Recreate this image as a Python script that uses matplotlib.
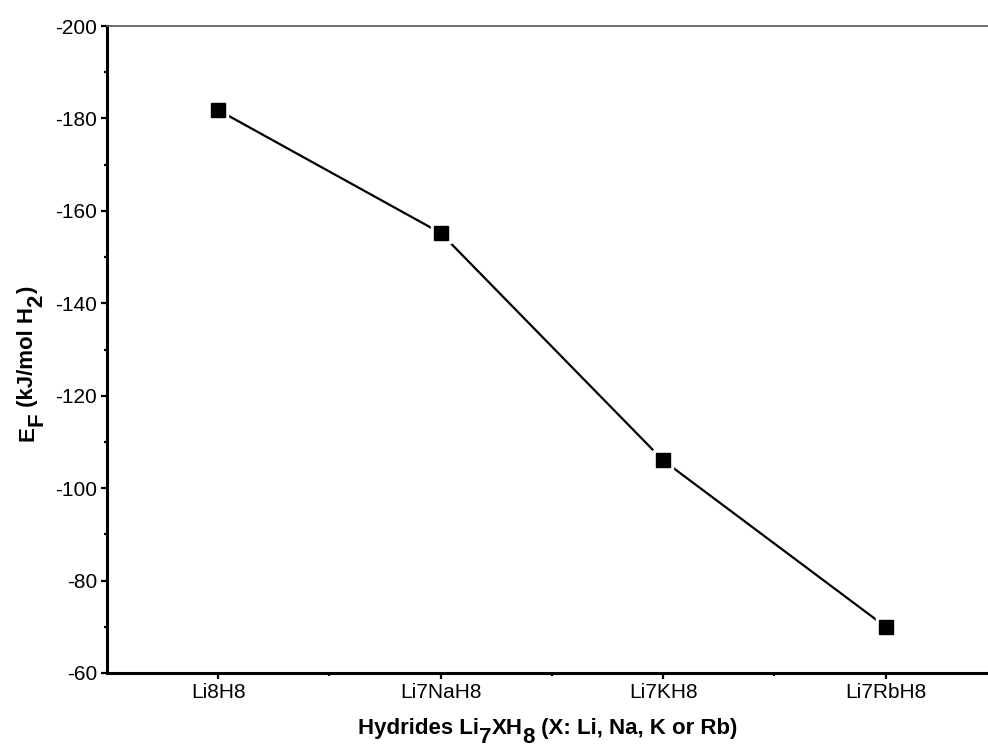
import matplotlib
matplotlib.use("Agg")
import matplotlib.pyplot as plt
from matplotlib.ticker import MultipleLocator, FixedLocator

plt.rcParams['font.family'] = ['Liberation Sans', 'DejaVu Sans']
plt.rcParams['axes.unicode_minus'] = False

categories = ['Li8H8', 'Li7NaH8', 'Li7KH8', 'Li7RbH8']
ef_values = [-181.8, -155.2, -106.0, -70.0]
y_ticks = [-60, -80, -100, -120, -140, -160, -180, -200]

# label pieces: (text, is_subscript)
xlabel_parts = [('Hydrides Li', False), ('7', True), ('XH', False), ('8', True),
                (' (X: Li, Na, K or Rb)', False)]
ylabel_parts = [('E', False), ('F', True), (' (kJ/mol H', False), ('2', True), (')', False)]

W, H, DPI = 988, 747, 100
fig = plt.figure(figsize=(W / DPI, H / DPI), dpi=DPI)
ax = fig.add_axes([107 / W, 74 / H, 881 / W, 647 / H])

xs = list(range(1, len(categories) + 1))
ax.plot(xs, ef_values, color='black', lw=1.6, zorder=2)
ax.plot(xs, ef_values, ls='none', marker='s', ms=15, color='white', zorder=3)
ax.plot(xs, ef_values, ls='none', marker='s', ms=10.5, color='black', zorder=4)

ax.set_xlim(0.5, 4.46)
ax.set_ylim(-60, -200)
ax.set_xticks(xs)
ax.set_xticklabels(categories)
ax.xaxis.set_minor_locator(FixedLocator([1.5, 2.5, 3.5]))
ax.set_yticks(y_ticks)
ax.yaxis.set_minor_locator(MultipleLocator(10))

ax.spines['right'].set_visible(False)
ax.spines['left'].set_linewidth(2.2)
ax.spines['bottom'].set_linewidth(2.2)
ax.spines['top'].set_linewidth(1.2)
ax.spines['top'].set_color('#555555')

ax.tick_params(axis='both', which='major', direction='out', length=4, width=1.6,
               labelsize=15, pad=3)
ax.tick_params(axis='both', which='minor', direction='out', length=2.5, width=1.6)
ax.tick_params(top=False, right=False, which='both')

renderer = fig.canvas.get_renderer()


def text_width(s, size):
    t = fig.text(0, 0, s, fontsize=size, fontweight='bold')
    w = t.get_window_extent(renderer).width
    t.remove()
    return w


def place_label(parts, size, center, baseline, rotation, sub_shift):
    full = ''.join(p for p, _ in parts)
    total = text_width(full, size)
    start = center - total / 2
    prefix = ''
    for s, sub in parts:
        off = text_width(prefix, size) if prefix else 0.0
        shift = sub_shift if sub else 0.0
        if rotation == 0:
            px, py = start + off, baseline - shift
        else:
            px, py = baseline + shift, start + off
        fig.text(px / W, py / H, s, fontsize=size, fontweight='bold',
                 rotation=rotation, rotation_mode='anchor', ha='left', va='baseline')
        prefix += s


# x label (pixel coords from bottom-left)
place_label(xlabel_parts, 16, center=107 + 881 / 2, baseline=H - 734,
            rotation=0, sub_shift=9)
# y label
place_label(ylabel_parts, 16, center=H - 364, baseline=33,
            rotation=90, sub_shift=9)

fig.savefig('out.png', dpi=DPI)
